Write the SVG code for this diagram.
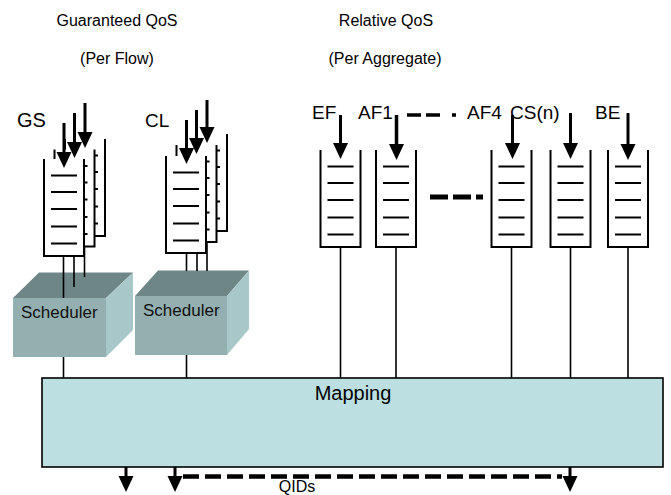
<svg xmlns="http://www.w3.org/2000/svg" xmlns:xlink="http://www.w3.org/1999/xlink" width="671" height="495" viewBox="0 0 671 495">
<style>
text{font-family:"Liberation Sans",Arial,sans-serif;fill:#000}
.t{font-size:16px}
.lb{font-size:19px}
.mp{font-size:20px}
.sc{font-size:17px;fill:#111}
.qw{fill:#fff;stroke:#000;stroke-width:2}
.ql{stroke:#000;stroke-width:2}
.ar{stroke:#000;stroke-width:3;fill:none;marker-end:url(#ah)}
.st{stroke:#000;stroke-width:1.6;fill:none}
.dash{stroke:#000;fill:none}
.front{fill:#94afb0}
.top{fill:#6f8687}
.side{fill:#a8c7c9}
</style>
<defs>
<marker id="ah" markerUnits="userSpaceOnUse" markerWidth="16" markerHeight="16" refX="8" refY="8" orient="auto" viewBox="0 0 16 16">
<path d="M0,0.5 L16,8 L0,15.5 z" fill="#000"/>
</marker>
<g id="q">
<path class="qw" d="M0,0 V97 H40 V0"/>
<path class="ql" d="M7,16.5 H33 M7,33 H33 M7,50 H33 M7,67.5 H33 M7,84.5 H33"/>
</g>
</defs>
<rect width="671" height="495" fill="#fff"/>

<g id="titles">
<text class="t" x="117" y="26" text-anchor="middle">Guaranteed QoS</text>
<text class="t" x="117" y="64" text-anchor="middle">(Per Flow)</text>
<text class="t" x="386" y="26" text-anchor="middle">Relative QoS</text>
<text class="t" x="385" y="64" text-anchor="middle">(Per Aggregate)</text>
</g>

<g id="gs-queues">
<use xlink:href="#q" x="65" y="139"/>
<use xlink:href="#q" x="54.5" y="149.5"/>
<use xlink:href="#q" x="44" y="159"/>
<text class="lb" x="17" y="127" style="font-size:20px">GS</text>
</g>
<g id="cl-queues">
<use xlink:href="#q" x="187" y="134"/>
<use xlink:href="#q" x="176.5" y="145"/>
<use xlink:href="#q" x="166" y="156"/>
<text class="lb" x="145" y="127">CL</text>
</g>

<g id="gs-scheduler">
<polygon class="top" points="13,298 39,272.5 133,272.5 106,298"/>
<polygon class="side" points="106,298 133,272.5 133,330 106,357"/>
<rect class="front" x="13" y="298" width="93" height="59"/>
<text class="sc" x="21" y="318">Scheduler</text>
</g>
<g id="cl-scheduler">
<polygon class="top" points="135,296 158,270.5 249,270.5 227,296"/>
<polygon class="side" points="227,296 249,270.5 249,329 227,355"/>
<rect class="front" x="135" y="296" width="92" height="59"/>
<text class="sc" x="143" y="316">Scheduler</text>
</g>

<g id="ef"><use xlink:href="#q" x="320.5" y="150"/><text class="lb" x="312" y="119">EF</text></g>
<g id="af1"><use xlink:href="#q" x="376" y="150"/><text class="lb" x="358" y="119">AF1</text></g>
<g id="af4"><use xlink:href="#q" x="491.5" y="150"/><text class="lb" x="467" y="119">AF4</text></g>
<g id="csn"><use xlink:href="#q" x="550.5" y="150"/><text class="lb" x="510" y="119">CS(n)</text></g>
<g id="be"><use xlink:href="#q" x="608" y="150"/><text class="lb" x="595" y="119">BE</text></g>

<g id="mapping">
<rect x="42" y="378" width="621" height="89" fill="#bce0e2" stroke="#000" stroke-width="1.6"/>
<text class="mp" x="353" y="400" text-anchor="middle">Mapping</text>
</g>

<g id="connectors">
<line class="ar" x1="85" y1="103" x2="85" y2="140"/>
<line class="ar" x1="74.5" y1="113" x2="74.5" y2="150"/>
<line class="ar" x1="64" y1="123" x2="64" y2="160"/>
<line class="ar" x1="207" y1="100" x2="207" y2="135"/>
<line class="ar" x1="196.5" y1="110" x2="196.5" y2="146"/>
<line class="ar" x1="186.5" y1="120" x2="186.5" y2="156"/>
<line class="ar" x1="340.5" y1="115" x2="340.5" y2="151"/>
<line class="ar" x1="396.5" y1="115" x2="396.5" y2="152" style="stroke-width:3.5"/>
<line class="ar" x1="512.5" y1="115" x2="512.5" y2="151"/>
<line class="ar" x1="570.5" y1="113" x2="570.5" y2="151"/>
<line class="ar" x1="628" y1="113" x2="628" y2="152"/>
<path class="st" d="M63.5,256 V298 M74,256 V287 M84.5,246 V277"/>
<path class="st" d="M186.5,253 V271 M197,253 V271 M207,243 V271"/>
<path class="st" d="M63.5,357 V378 M186.5,355 V378"/>
<path class="st" d="M340.5,247 V378 M396,247 V378 M511.5,247 V378 M570.5,247 V378 M628,247 V378"/>
<path class="dash" d="M407,115 H457" stroke-width="3.5" stroke-dasharray="14 5 14 12 4 20"/>
<path class="dash" d="M430,197 H484" stroke-width="5" stroke-dasharray="18 5 18 5 7 20"/>
<line class="ar" x1="126" y1="467" x2="126" y2="484"/>
<line class="ar" x1="175" y1="467" x2="175" y2="484"/>
<line class="ar" x1="570" y1="467" x2="570" y2="484"/>
<path class="dash" d="M183,476.5 H562" stroke-width="4.5" stroke-dasharray="16 6"/>
</g>
<text class="lb" x="297" y="492" text-anchor="middle" style="font-size:16px">QIDs</text>
</svg>
